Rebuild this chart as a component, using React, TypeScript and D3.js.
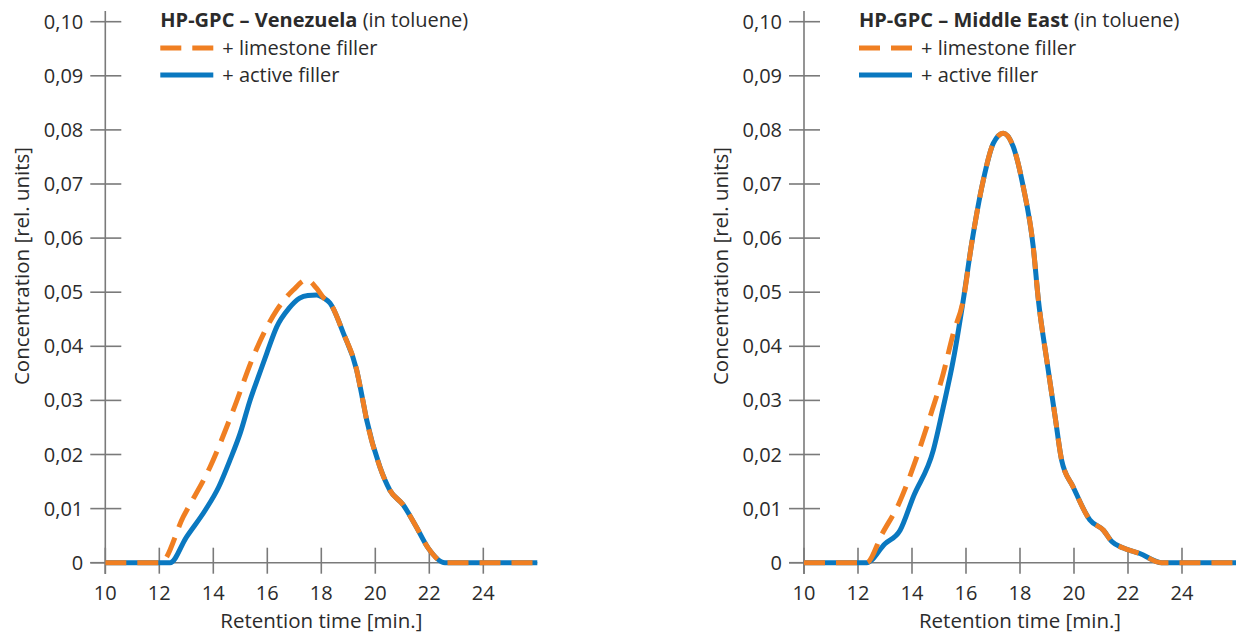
import React from "react";
import * as d3 from "d3";

type Pt = [number, number];

const xTicks = [10, 12, 14, 16, 18, 20, 22, 24];
const yTicks = [0, 0.01, 0.02, 0.03, 0.04, 0.05, 0.06, 0.07, 0.08, 0.09, 0.1];
const yTickLabels = ["0", "0,01", "0,02", "0,03", "0,04", "0,05", "0,06", "0,07", "0,08", "0,09", "0,10"];

const seriesNames = ["+ limestone filler", "+ active filler"];
const panelTitles = ["Venezuela", "Middle East"];

const venezuelaActive: Pt[] = [
  [10, 0], [12.4, 0], [13.0, 0.0047], [13.7, 0.0097], [14.2, 0.014], [14.62, 0.019],
  [15.0, 0.024], [15.36, 0.03], [15.7, 0.0348], [15.98, 0.0387], [16.35, 0.0436],
  [16.8, 0.047], [17.2, 0.0489], [17.5, 0.0494], [17.83, 0.0495], [18.1, 0.0489],
  [18.32, 0.048], [18.82, 0.0424], [19.31, 0.0356], [19.5, 0.031], [19.68, 0.0264],
  [20.17, 0.0177], [20.54, 0.0134], [21.03, 0.0107], [21.5, 0.0068], [21.96, 0.0027],
  [22.58, 0], [26, 0],
];

const venezuelaLimestone: Pt[] = [
  [10, 0], [12.05, 0], [12.89, 0.0085], [13.88, 0.0177], [14.74, 0.0282],
  [15.48, 0.0381], [16.35, 0.0467], [16.96, 0.0504], [17.46, 0.0523], [17.83, 0.0507],
  [18.1, 0.0489], [18.32, 0.048], [18.82, 0.0424], [19.31, 0.0356], [19.5, 0.031],
  [19.68, 0.0264], [20.17, 0.0177], [20.54, 0.0134], [21.03, 0.0107], [21.5, 0.0068],
  [21.96, 0.0027], [22.58, 0], [26, 0],
];

const middleEastActive: Pt[] = [
  [10, 0], [12.32, 0], [13.0, 0.0035], [13.56, 0.006], [14.05, 0.0122], [14.79, 0.0208],
  [15.16, 0.0288], [15.53, 0.0375], [15.9, 0.0486], [16.21, 0.059], [16.64, 0.0707],
  [17.01, 0.0775], [17.38, 0.0794], [17.75, 0.0769], [18.12, 0.0695], [18.49, 0.0584],
  [18.68, 0.0486], [18.99, 0.0375], [19.3, 0.027], [19.54, 0.019], [19.97, 0.014],
  [20.59, 0.0079], [21.09, 0.006], [21.4, 0.0039], [21.83, 0.0027], [22.44, 0.0017],
  [23.24, 0], [26, 0],
];

const middleEastLimestone: Pt[] = [
  [10, 0], [12.32, 0], [12.9, 0.0054], [13.52, 0.011], [14.14, 0.019], [14.63, 0.0264],
  [15.16, 0.035], [15.53, 0.0424], [15.9, 0.0486], [16.21, 0.059], [16.64, 0.0707],
  [17.01, 0.0775], [17.38, 0.0794], [17.75, 0.0769], [18.12, 0.0695], [18.49, 0.0584],
  [18.68, 0.0486], [18.99, 0.0375], [19.3, 0.027], [19.54, 0.019], [19.97, 0.014],
  [20.59, 0.0079], [21.09, 0.006], [21.4, 0.0039], [21.83, 0.0027], [22.44, 0.0017],
  [23.24, 0], [26, 0],
];

const ORANGE = "#F07F22";
const BLUE = "#0A78C0";
const AXIS = "#7a7a7a";
const TEXT = "#2b2b2b";
const FONT = "'Open Sans', 'Noto Sans', sans-serif";

function Panel({ ox, title, limestone, active }: { ox: number; title: string; limestone: Pt[]; active: Pt[] }) {
  const x = d3.scaleLinear().domain([10, 26]).range([ox, ox + 432]);
  const y = d3.scaleLinear().domain([0, 0.1]).range([562.7, 21.7]);
  const line = d3
    .line<Pt>()
    .x((d) => x(d[0]))
    .y((d) => y(d[1]))
    .curve(d3.curveMonotoneX);
  const x0 = x(10);
  const yb = y(0);
  return (
    <g>
      {/* axes */}
      <line x1={x0} x2={x0} y1={11} y2={574} stroke={AXIS} strokeWidth={1.6} />
      <line x1={x0 - 15} x2={x(26)} y1={yb} y2={yb} stroke={AXIS} strokeWidth={1.6} />
      {yTicks.map((t, i) => (
        <g key={"y" + i}>
          <line x1={x0 - 15} x2={x0 + 16} y1={y(t)} y2={y(t)} stroke={AXIS} strokeWidth={1.6} />
          <text x={x0 - 22} y={y(t) + 7} textAnchor="end" fontSize={20} fill={TEXT} fontFamily={FONT}>
            {yTickLabels[i]}
          </text>
        </g>
      ))}
      {xTicks.map((t) => (
        <g key={"x" + t}>
          <line x1={x(t)} x2={x(t)} y1={yb - 15} y2={yb + 11} stroke={AXIS} strokeWidth={1.6} />
          <text x={x(t)} y={600} textAnchor="middle" fontSize={20} fill={TEXT} fontFamily={FONT}>
            {t}
          </text>
        </g>
      ))}
      <text x={(x0 + x(26)) / 2} y={628} textAnchor="middle" fontSize={20.5} fill={TEXT} fontFamily={FONT}>
        Retention time [min.]
      </text>
      <text
        transform={`translate(${x0 - 76},266) rotate(-90)`}
        textAnchor="middle"
        fontSize={20.5}
        fill={TEXT}
        fontFamily={FONT}
      >
        Concentration [rel. units]
      </text>
      {/* curves */}
      <path d={line(active) || ""} fill="none" stroke={BLUE} strokeWidth={5} strokeLinejoin="round" />
      <path
        d={line(limestone) || ""}
        fill="none"
        stroke={ORANGE}
        strokeWidth={5}
        strokeDasharray="21 11"
        strokeLinejoin="round"
      />
      {/* legend */}
      <text x={x0 + 55} y={27} fontSize={20} fill={TEXT} fontFamily={FONT}>
        <tspan fontWeight="bold">{"HP-GPC – " + title}</tspan>
        <tspan>{" (in toluene)"}</tspan>
      </text>
      <line x1={x0 + 55} x2={x0 + 108} y1={48} y2={48} stroke={ORANGE} strokeWidth={5} strokeDasharray="21 11" />
      <text x={x0 + 117} y={55} fontSize={20} fill={TEXT} fontFamily={FONT}>
        {seriesNames[0]}
      </text>
      <line x1={x0 + 55} x2={x0 + 108} y1={75} y2={75} stroke={BLUE} strokeWidth={5} />
      <text x={x0 + 117} y={82} fontSize={20} fill={TEXT} fontFamily={FONT}>
        {seriesNames[1]}
      </text>
    </g>
  );
}

export default function App() {
  return (
    <svg
      width={1236}
      height={636}
      style={{ position: "absolute", left: 0, top: 0, display: "block", background: "#fff" }}
    >
      <Panel ox={105.3} title={panelTitles[0]} limestone={venezuelaLimestone} active={venezuelaActive} />
      <Panel ox={804} title={panelTitles[1]} limestone={middleEastLimestone} active={middleEastActive} />
    </svg>
  );
}
